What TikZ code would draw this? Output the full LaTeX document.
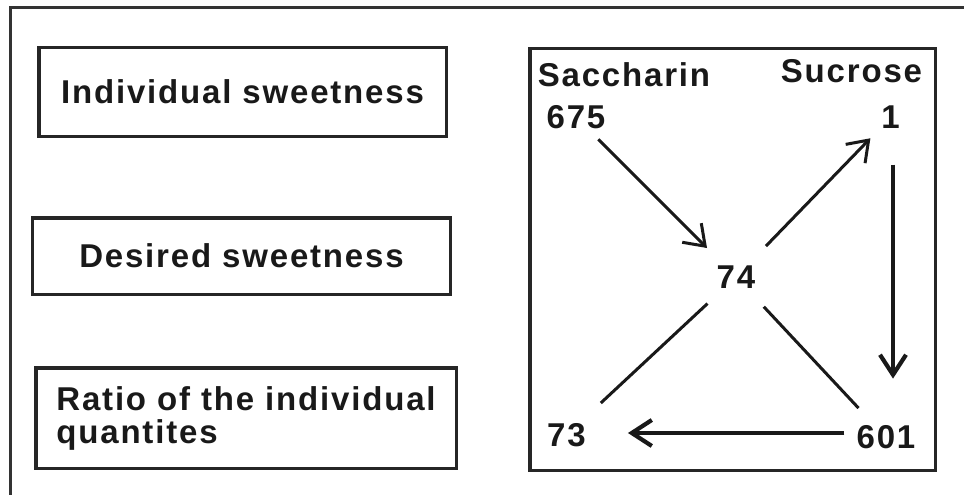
\documentclass[tikz,border=0pt]{standalone}
\usepackage{fontspec}
\setmainfont{Liberation Sans}[LetterSpace=5.5]
\usetikzlibrary{arrows.meta}
\begin{document}
\begin{tikzpicture}[x=1pt,y=-1pt,
  box/.style={draw=black!85, line width=3.5pt, inner sep=0pt},
  lbl/.style={font=\fontsize{33}{33}\selectfont\bfseries, inner sep=0pt, text=black!90},
  frameline/.style={draw=black!80, line width=3pt},
  arr/.style={draw=black!90, line width=3pt, -{Straight Barb[length=19pt,width=27pt]}},
  tharr/.style={draw=black!90, line width=4.2pt, -{Straight Barb[length=20pt,width=26pt]}},
  plain/.style={draw=black!90, line width=3pt}]
\useasboundingbox (0,0) rectangle (964,495);
% outer frame
\coordinate (ftr) at (964,8);
\coordinate (ftl) at (10,8);
\coordinate (fbl) at (10,495);
\draw[frameline] (ftr) -- (ftl) -- (fbl);
% left boxes
\node[box, lbl, minimum width=407.5pt, minimum height=88.5pt] (b1) at (242.5,92) {Individual sweetness};
\node[box, lbl, minimum width=418pt, minimum height=76.5pt] (b2) at (241.5,256) {Desired sweetness};
\node[box, lbl, minimum width=420.5pt, minimum height=100.5pt, align=left] (b3) at (246,418) {Ratio of the individual\\quantites};
% right frame
\node[box, minimum width=405.5pt, minimum height=421.5pt] (frame) at (732.5,259.5) {};
% labels
\node[lbl] (sacc) at (624,75) {Saccharin};
\node[lbl] (sucr) at (851.5,71.5) {Sucrose};
\node[lbl] (n675) at (576,117) {675};
\node[lbl] (n1) at (890.5,117.5) {1};
\node[lbl] (n74) at (736,277) {74};
\node[lbl] (n73) at (566.5,435) {73};
\node[lbl] (n601) at (886,437.5) {601};
% connectors
\draw[arr, shorten <=31.6pt, shorten >=41pt] (n675.center) -- (n74.center);
\draw[arr, shorten <=43pt, shorten >=28.9pt] (n74.center) -- (n1.center);
\draw[tharr, shorten <=35.5pt, shorten >=47pt] ([xshift=2.5pt]n1.south) -- ([xshift=2.5pt]n1.south |- n601.north);
\draw[tharr, shorten <=12pt, shorten >=42pt] ([yshift=4.5pt]n601.west) -- ([yshift=4.5pt]n601.west -| n73.east);
\draw[plain, shorten <=39pt, shorten >=46.9pt] (n74.center) -- (n73.center);
\draw[plain, shorten <=40.7pt, shorten >=40.3pt] (n74.center) -- (n601.center);
\end{tikzpicture}
\end{document}
